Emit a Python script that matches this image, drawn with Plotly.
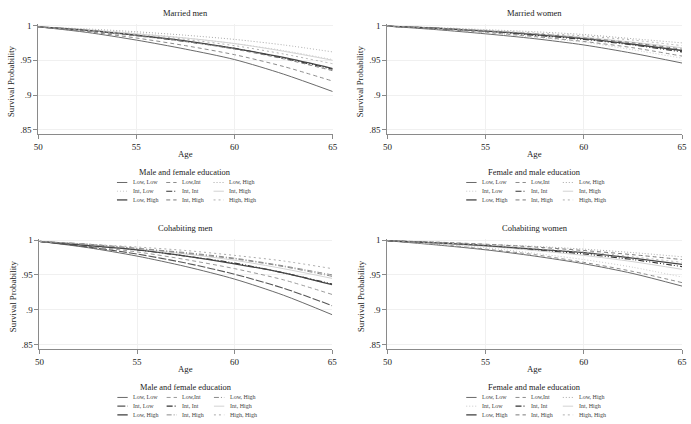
import plotly.graph_objects as go

# ---------------- data ----------------
ages = [50, 52.5, 55, 57.5, 60, 62.5, 65]
series_names = ["Low, Low", "Low,Int", "Low, High",
                "Int, Low", "Int, Int", "Int, High",
                "Low, High", "Int, High", "High, High"]

panel_titles = ["Married men", "Married women", "Cohabiting men", "Cohabiting women"]
legend_titles = ["Male and female education", "Female and male education",
                 "Male and female education", "Female and male education"]

married_men = [
    [.998, .990, .979, .966, .951, .930, .905],
    [.998, .991, .982, .971, .958, .941, .920],
    [.998, .995, .991, .986, .980, .972, .962],
    [.998, .994, .989, .982, .974, .964, .951],
    [.998, .993, .986, .977, .967, .953, .937],
    [.998, .994, .988, .982, .974, .963, .950],
    [.998, .993, .986, .978, .967, .954, .938],
    [.998, .992, .985, .977, .966, .952, .935],
    [.998, .993, .987, .980, .971, .959, .945],
]
married_women = [
    [.999, .994, .988, .981, .972, .960, .946],
    [.999, .995, .990, .984, .977, .968, .956],
    [.999, .997, .994, .991, .987, .981, .975],
    [.999, .995, .990, .983, .976, .965, .953],
    [.999, .996, .992, .986, .980, .972, .962],
    [.999, .996, .993, .988, .983, .976, .968],
    [.999, .996, .992, .987, .981, .973, .964],
    [.999, .996, .992, .988, .982, .975, .966],
    [.999, .996, .993, .989, .985, .979, .971],
]
cohabiting_men = [
    [.998, .989, .977, .962, .944, .921, .893],
    [.998, .991, .983, .972, .959, .943, .922],
    [.998, .994, .988, .982, .974, .963, .950],
    [.998, .990, .980, .967, .951, .931, .906],
    [.998, .993, .986, .977, .967, .953, .937],
    [.998, .993, .987, .980, .971, .959, .945],
    [.998, .992, .986, .977, .966, .953, .936],
    [.998, .994, .988, .981, .973, .962, .948],
    [.998, .994, .990, .985, .978, .970, .959],
]
cohabiting_women = [
    [.999, .993, .986, .977, .966, .952, .934],
    [.999, .994, .987, .979, .968, .955, .939],
    [.999, .997, .994, .991, .987, .982, .976],
    [.999, .994, .989, .981, .972, .961, .947],
    [.999, .996, .992, .986, .980, .972, .962],
    [.999, .995, .991, .985, .978, .969, .958],
    [.999, .996, .992, .987, .982, .974, .965],
    [.999, .997, .994, .990, .985, .979, .972],
    [.999, .996, .993, .988, .983, .976, .968],
]
panels_data = [married_men, married_women, cohabiting_men, cohabiting_women]

x_ticks = [50, 55, 60, 65]
y_ticks = [0.85, 0.9, 0.95, 1.0]
y_ticktext = [".85", ".9", ".95", "1"]

# ---------------- styles ----------------
style_a = [
    ("#6a6a6a", "solid", 1.0),
    ("#8c8c8c", "4px,3px", 1.0),
    ("#a8a8a8", "1px,2px", 1.0),
    ("#c8c8c8", "1px,2px", 1.0),
    ("#333333", "6px,2px,1px,2px,1px,2px", 1.15),
    ("#d2d2d2", "solid", 1.0),
    ("#444444", "solid", 1.3),
    ("#7a7a7a", "4px,3px", 1.0),
    ("#b0b0b0", "2px,3px", 1.0),
]
style_b = [
    ("#6a6a6a", "solid", 1.0),
    ("#9a9a9a", "4px,3px", 1.0),
    ("#8a8a8a", "5px,2px,1px,2px", 1.0),
    ("#555555", "8px,2px", 1.1),
    ("#333333", "6px,2px,1px,2px,1px,2px", 1.15),
    ("#d2d2d2", "solid", 1.0),
    ("#444444", "solid", 1.3),
    ("#8a8a8a", "5px,2px,1px,2px", 1.0),
    ("#ababab", "2px,3px", 1.0),
]
panel_styles = [style_a, style_a, style_b, style_a]

W, H = 691, 424
FONT = "Liberation Serif"

# plot area pixel boxes: (x_left, x_right, y_top, y_bottom)
boxes = [
    (33.7, 332.5, 21.3, 132.2),
    (388.0, 687.0, 21.3, 132.2),
    (35.0, 332.0, 237.9, 349.2),
    (388.0, 687.0, 237.9, 349.2),
]
y_range = [0.844, 1.002]

fig = go.Figure()
annotations = []
shapes = []

for p, (xl, xr, yt, yb) in enumerate(boxes):
    sfx = "" if p == 0 else str(p + 1)
    xa, ya = "x" + sfx, "y" + sfx
    dom_x = [xl / W, xr / W]
    dom_y = [1 - yb / H, 1 - yt / H]
    fig.layout["xaxis" + sfx] = dict(
        domain=dom_x, range=[50, 65], anchor=ya, tickvals=x_ticks,
        showgrid=True, gridcolor="#f0f0f0", gridwidth=1, zeroline=False,
        showline=True, linecolor="#8a8a8a", linewidth=1,
        ticks="outside", ticklen=4, tickcolor="#8a8a8a",
        tickfont=dict(family=FONT, size=9, color="#222"),
    )
    fig.layout["yaxis" + sfx] = dict(
        domain=dom_y, range=y_range, anchor=xa, tickvals=y_ticks, ticktext=y_ticktext,
        showgrid=True, gridcolor="#f0f0f0", gridwidth=1, zeroline=False,
        showline=True, linecolor="#8a8a8a", linewidth=1,
        ticks="outside", ticklen=4, tickcolor="#8a8a8a",
        tickfont=dict(family=FONT, size=9, color="#222"),
    )
    styles = panel_styles[p]
    for i, name in enumerate(series_names):
        col, dash, wid = styles[i]
        fig.add_trace(go.Scatter(
            x=ages, y=panels_data[p][i], mode="lines", name=name,
            line=dict(color=col, dash=dash, width=wid, shape="spline", smoothing=0.8),
            xaxis=xa, yaxis=ya, showlegend=False,
        ))
    cx = (xl + xr) / 2
    annotations.append(dict(text=panel_titles[p], x=cx / W, y=1 - (yt - 11) / H,
                            xref="paper", yref="paper", showarrow=False,
                            font=dict(family=FONT, size=8.5, color="#222"),
                            xanchor="center", yanchor="middle"))
    annotations.append(dict(text="Age", x=cx / W, y=1 - (yb + 20) / H,
                            xref="paper", yref="paper", showarrow=False,
                            font=dict(family=FONT, size=8.8, color="#222"),
                            xanchor="center", yanchor="middle"))
    annotations.append(dict(text="Survival Probability", x=(xl - 27.5) / W, y=1 - ((yt + yb) / 2 + 2) / H,
                            xref="paper", yref="paper", showarrow=False, textangle=-90,
                            font=dict(family=FONT, size=8.8, color="#222"),
                            xanchor="center", yanchor="middle"))
    annotations.append(dict(text=legend_titles[p], x=cx / W, y=1 - (yb + 39) / H,
                            xref="paper", yref="paper", showarrow=False,
                            font=dict(family=FONT, size=8.4, color="#222"),
                            xanchor="center", yanchor="middle"))
    col_off = [-69.5, -19.5, 28.5]
    for i, name in enumerate(series_names):
        r, c = divmod(i, 3)
        sx = cx + col_off[c]
        sy = yb + 49 + r * 8.8
        col, dash, wid = styles[i]
        shapes.append(dict(type="line", xref="paper", yref="paper",
                           x0=sx / W, x1=(sx + 10.5) / W, y0=1 - sy / H, y1=1 - sy / H,
                           line=dict(color=col, dash=dash, width=wid)))
        annotations.append(dict(text=name, x=(sx + 14) / W, y=1 - sy / H,
                                xref="paper", yref="paper", showarrow=False,
                                font=dict(family=FONT, size=6, color="#444"),
                                xanchor="left", yanchor="middle"))

fig.update_layout(
    width=W, height=H, margin=dict(l=0, r=0, t=0, b=0),
    paper_bgcolor="white", plot_bgcolor="white",
    annotations=annotations, shapes=shapes, showlegend=False,
)
fig.write_html("out.html")
